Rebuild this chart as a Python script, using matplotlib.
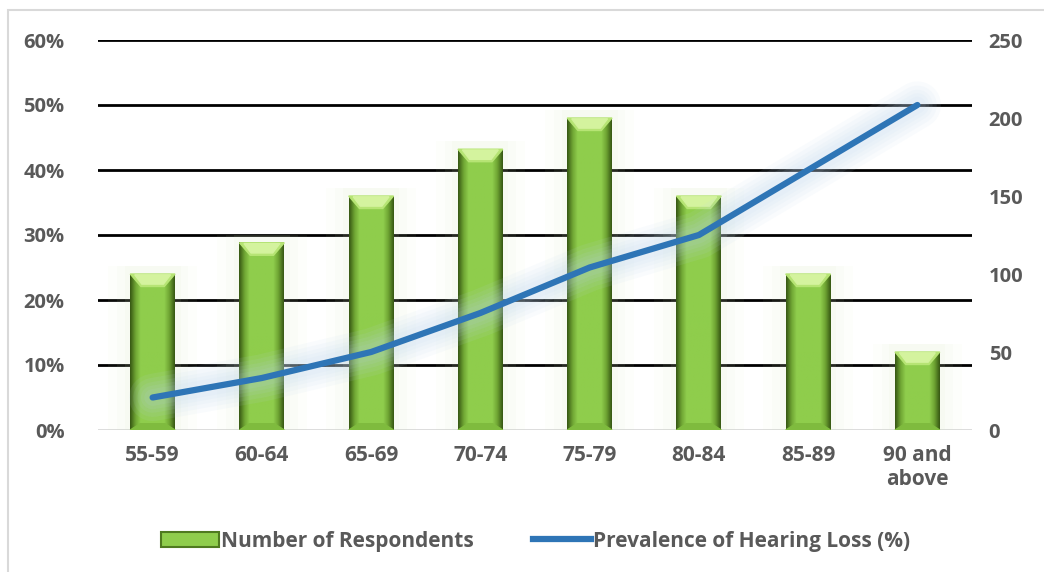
import numpy as np
import matplotlib.pyplot as plt
import matplotlib.patheffects as pe
from matplotlib.patches import Polygon, Rectangle
from matplotlib.lines import Line2D
from matplotlib.ticker import FuncFormatter

age_groups = ['55-59', '60-64', '65-69', '70-74', '75-79', '80-84', '85-89', '90 and\nabove']
respondents = [100, 120, 150, 180, 200, 150, 100, 50]
prevalence = [5, 8, 12, 18, 25, 30, 40, 50]

text_color = '#595959'
line_color = '#2e75b6'
plt.rcParams['font.family'] = ['Open Sans', 'DejaVu Sans']
plt.rcParams['font.weight'] = 'bold'

fig = plt.figure(figsize=(10.44, 5.72), dpi=100)
ax2 = fig.add_axes([98 / 1044, 1 - 430 / 572, 874 / 1044, 390 / 572])
ax = ax2.twinx()
ax.yaxis.tick_left()
ax2.yaxis.tick_right()
ax.set_zorder(ax2.get_zorder() + 1)
ax.patch.set_visible(False)

x = np.arange(len(age_groups))
w = 0.41
ymax_pct, ymax_n = 60, 250

# gridlines follow the percentage axis, drawn behind the bars
ax2.set_ylim(0, ymax_n)
for gp in range(10, ymax_pct + 1, 10):
    ax2.axhline(gp * ymax_n / ymax_pct, color='black', lw=2, zorder=0)
ax2.axhline(0, color='#d9d9d9', lw=2, zorder=0)

# bevelled green columns: horizontal shading plus a light chamfer on top
profile = np.concatenate([np.linspace(0, 1, 10), np.ones(20), np.linspace(1, 0, 10)])
cmap = plt.matplotlib.colors.LinearSegmentedColormap.from_list('bar', ['#3a5c15', '#6fa533', '#8fcd4c'])
chamfer = 8
for xi, v in zip(x, respondents):
    # soft halo behind each column
    for k, a in zip([2.0, 1.6, 1.25], [0.05, 0.06, 0.08]):
        ax2.bar(xi, v + 5, width=w * k, color='#d8ecc0', alpha=a, zorder=1)
    ax2.imshow(profile[np.newaxis, :], cmap=cmap, aspect='auto',
               extent=(xi - w / 2, xi + w / 2, 0, v), zorder=2, interpolation='bilinear')
    ax2.add_patch(Polygon([(xi - w / 2, v), (xi + w / 2, v), (xi + w * 0.26, v - chamfer),
                           (xi - w * 0.26, v - chamfer)], closed=True, color='#b6e474', zorder=3))
    ax2.add_patch(Polygon([(xi - w * 0.4, v - 0.5), (xi + w * 0.4, v - 0.5), (xi + w * 0.24, v - chamfer + 1.5),
                           (xi - w * 0.24, v - chamfer + 1.5)], closed=True, color='#d4f39e', zorder=3))
    ax2.add_patch(Polygon([(xi - w / 2, 0), (xi + w / 2, 0), (xi + w * 0.28, 4),
                           (xi - w * 0.28, 4)], closed=True, color='#7fbb3e', zorder=3))
ax2.set_xlim(-0.5, len(age_groups) - 0.5)

# prevalence line with a soft glow
glow = [pe.Stroke(linewidth=lw, foreground='#bdd7ee', alpha=0.09) for lw in (34, 28, 22, 17, 12)]
glow.append(pe.Normal())
ax.plot(x, prevalence, color=line_color, lw=4.5, solid_capstyle='round', path_effects=glow, zorder=5)
ax.set_ylim(0, ymax_pct)

ax.set_yticks(range(0, ymax_pct + 1, 10))
ax.yaxis.set_major_formatter(FuncFormatter(lambda v, p: f'{v:.0f}%'))
ax2.set_yticks(range(0, ymax_n + 1, 50))
ax2.set_xticks(x)
ax2.set_xticklabels(age_groups, linespacing=1.2)

for a in (ax, ax2):
    for s in a.spines.values():
        s.set_visible(False)
ax.tick_params(axis='y', length=0, pad=24, labelsize=14.5, labelcolor=text_color)
ax2.tick_params(axis='y', length=0, pad=12, labelsize=14.5, labelcolor=text_color)
ax2.tick_params(axis='x', length=0, pad=11, labelsize=15, labelcolor=text_color)
ax.tick_params(axis='x', length=0, labelbottom=False)

handles = [Rectangle((0, 0), 1, 1, facecolor='#8fcd4c', edgecolor='#4f7a1f', lw=1.5),
           Line2D([], [], color=line_color, lw=4.5)]
fig.legend(handles, ['Number of Respondents', 'Prevalence of Hearing Loss (%)'],
           loc='center', bbox_to_anchor=(0.513, 1 - 541 / 572), ncol=2, frameon=False,
           fontsize=15, labelcolor=text_color, handlelength=2.8, handleheight=0.7,
           handletextpad=0.1, columnspacing=2.8)

fig.patches.append(Rectangle((8 / 1044, -0.1), 1.2, 1 - 10 / 572 + 0.1, transform=fig.transFigure,
                             fill=False, edgecolor='#d9d9d9', lw=1.5))

fig.savefig('out.png', dpi=100)
